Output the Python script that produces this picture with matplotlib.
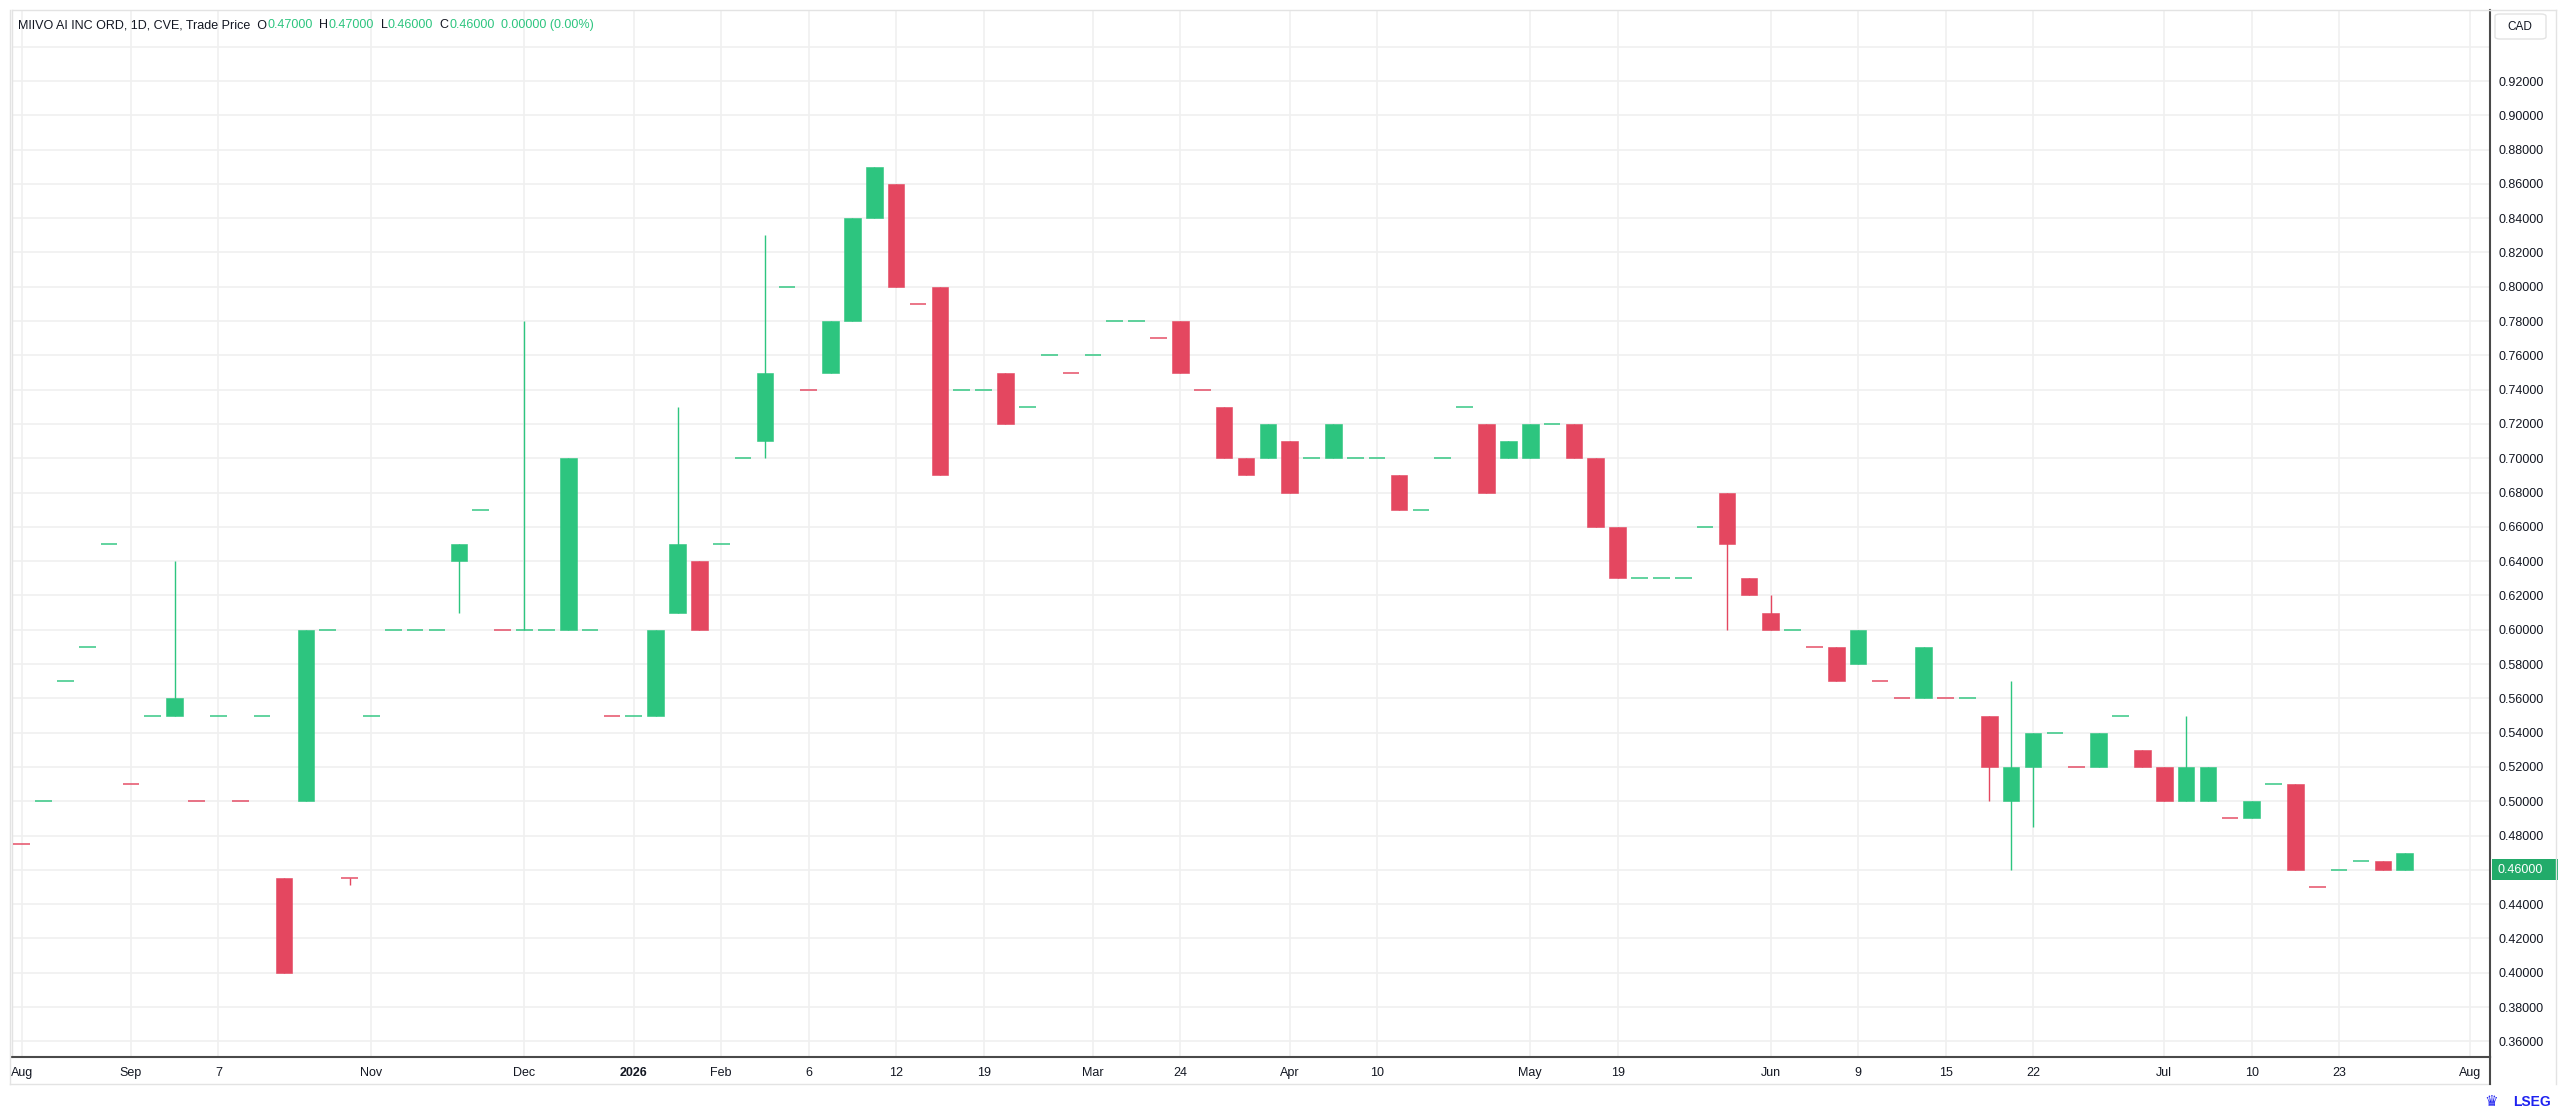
import matplotlib

matplotlib.use("Agg")

import matplotlib.pyplot as plt
import matplotlib.transforms as mtransforms
import numpy as np
from matplotlib.lines import Line2D
from matplotlib.patches import FancyBboxPatch

# daily bars (CAD)
opens = [
    0.475, 0.50, 0.57, 0.59, 0.65, 0.51, 0.55, 0.55, 0.50, 0.55,
    0.50, 0.55, 0.455, 0.50, 0.60, 0.455, 0.55, 0.60, 0.60, 0.60,
    0.64, 0.67, 0.60, 0.60, 0.60, 0.60, 0.60, 0.55, 0.55, 0.55,
    0.61, 0.64, 0.65, 0.70, 0.71, 0.80, 0.74, 0.75, 0.78, 0.84,
    0.86, 0.79, 0.80, 0.74, 0.74, 0.75, 0.73, 0.76, 0.75, 0.76,
    0.78, 0.78, 0.77, 0.78, 0.74, 0.73, 0.70, 0.70, 0.71, 0.70,
    0.70, 0.70, 0.70, 0.69, 0.67, 0.70, 0.73, 0.72, 0.70, 0.70,
    0.72, 0.72, 0.70, 0.66, 0.63, 0.63, 0.63, 0.66, 0.68, 0.63,
    0.61, 0.60, 0.59, 0.59, 0.58, 0.57, 0.56, 0.56, 0.56, 0.56,
    0.55, 0.50, 0.52, 0.54, 0.52, 0.52, 0.55, 0.53, 0.52, 0.50,
    0.50, 0.49, 0.49, 0.51, 0.51, 0.45, 0.46, 0.465, 0.465, 0.46,
]
highs = [
    0.475, 0.50, 0.57, 0.59, 0.65, 0.51, 0.55, 0.64, 0.50, 0.55,
    0.50, 0.55, 0.455, 0.60, 0.60, 0.455, 0.55, 0.60, 0.60, 0.60,
    0.65, 0.67, 0.60, 0.78, 0.60, 0.70, 0.60, 0.55, 0.55, 0.60,
    0.73, 0.64, 0.65, 0.70, 0.83, 0.80, 0.74, 0.78, 0.84, 0.87,
    0.86, 0.79, 0.80, 0.74, 0.74, 0.75, 0.73, 0.76, 0.75, 0.76,
    0.78, 0.78, 0.77, 0.78, 0.74, 0.73, 0.70, 0.72, 0.71, 0.70,
    0.72, 0.70, 0.70, 0.69, 0.67, 0.70, 0.73, 0.72, 0.71, 0.72,
    0.72, 0.72, 0.70, 0.66, 0.63, 0.63, 0.63, 0.66, 0.68, 0.63,
    0.62, 0.60, 0.59, 0.59, 0.60, 0.57, 0.56, 0.59, 0.56, 0.56,
    0.55, 0.57, 0.54, 0.54, 0.52, 0.54, 0.55, 0.53, 0.52, 0.55,
    0.52, 0.49, 0.50, 0.51, 0.51, 0.45, 0.46, 0.465, 0.465, 0.47,
]
lows = [
    0.475, 0.50, 0.57, 0.59, 0.65, 0.51, 0.55, 0.55, 0.50, 0.55,
    0.50, 0.55, 0.40, 0.50, 0.60, 0.451, 0.55, 0.60, 0.60, 0.60,
    0.61, 0.67, 0.60, 0.60, 0.60, 0.60, 0.60, 0.55, 0.55, 0.55,
    0.61, 0.60, 0.65, 0.70, 0.70, 0.80, 0.74, 0.75, 0.78, 0.84,
    0.80, 0.79, 0.69, 0.74, 0.74, 0.72, 0.73, 0.76, 0.75, 0.76,
    0.78, 0.78, 0.77, 0.75, 0.74, 0.70, 0.69, 0.70, 0.68, 0.70,
    0.70, 0.70, 0.70, 0.67, 0.67, 0.70, 0.73, 0.68, 0.70, 0.70,
    0.72, 0.70, 0.66, 0.63, 0.63, 0.63, 0.63, 0.66, 0.60, 0.62,
    0.60, 0.60, 0.59, 0.57, 0.58, 0.57, 0.56, 0.56, 0.56, 0.56,
    0.50, 0.46, 0.485, 0.54, 0.52, 0.52, 0.55, 0.52, 0.50, 0.50,
    0.50, 0.49, 0.49, 0.51, 0.46, 0.45, 0.46, 0.465, 0.46, 0.46,
]
closes = [
    0.475, 0.50, 0.57, 0.59, 0.65, 0.51, 0.55, 0.56, 0.50, 0.55,
    0.50, 0.55, 0.40, 0.60, 0.60, 0.455, 0.55, 0.60, 0.60, 0.60,
    0.65, 0.67, 0.60, 0.60, 0.60, 0.70, 0.60, 0.55, 0.55, 0.60,
    0.65, 0.60, 0.65, 0.70, 0.75, 0.80, 0.74, 0.78, 0.84, 0.87,
    0.80, 0.79, 0.69, 0.74, 0.74, 0.72, 0.73, 0.76, 0.75, 0.76,
    0.78, 0.78, 0.77, 0.75, 0.74, 0.70, 0.69, 0.72, 0.68, 0.70,
    0.72, 0.70, 0.70, 0.67, 0.67, 0.70, 0.73, 0.68, 0.71, 0.72,
    0.72, 0.70, 0.66, 0.63, 0.63, 0.63, 0.63, 0.66, 0.65, 0.62,
    0.60, 0.60, 0.59, 0.57, 0.60, 0.57, 0.56, 0.59, 0.56, 0.56,
    0.52, 0.52, 0.54, 0.54, 0.52, 0.54, 0.55, 0.52, 0.50, 0.52,
    0.52, 0.49, 0.50, 0.51, 0.46, 0.45, 0.46, 0.465, 0.46, 0.47,
]
# bar colour as drawn: u = green, d = red
direction = list(
    "duuuuduudu"
    "duduuduuuu"
    "uuduuuuduu"
    "uduuuuduuu"
    "ddduuduudu"
    "uudddddudu"
    "uuuduuuduu"
    "uddduuuudd"
    "dudduddudu"
    "duuuduuddu"
    "uduudduudu"
)

price_ticks = [0.36, 0.38, 0.40, 0.42, 0.44, 0.46, 0.48, 0.50, 0.52, 0.54, 0.56,
               0.58, 0.60, 0.62, 0.64, 0.66, 0.68, 0.70, 0.72, 0.74, 0.76, 0.78,
               0.80, 0.82, 0.84, 0.86, 0.88, 0.90, 0.92, 0.94]
date_tick_bars = [0, 5, 9, 16, 23, 28, 32, 36, 40, 44, 49, 53, 58, 62, 69, 73,
                  80, 84, 88, 92, 98, 102, 106, 112]
date_tick_labels = ["Aug", "Sep", "7", "Nov", "Dec", "2026", "Feb", "6", "12", "19",
                    "Mar", "24", "Apr", "10", "May", "19", "Jun", "9", "15", "22",
                    "Jul", "10", "23", "Aug"]
last_price = 0.46
header_parts = [
    ("MIIVO AI INC ORD, 1D, CVE, Trade Price  O", "dark"),
    ("0.47000", "up"),
    ("  H", "dark"),
    ("0.47000", "up"),
    ("  L", "dark"),
    ("0.46000", "up"),
    ("  C", "dark"),
    ("0.46000", "up"),
    ("  0.00000 (0.00%)", "up"),
]

GREEN = "#2DC57F"
RED = "#E44760"
DARK = "#131722"
GRID = "#F0F0F0"
BORDER = "#E3E3E3"
AXIS = "#4A4A4A"
LOGO_BLUE = "#1F22F0"

W, H = 2560, 1115


def fx(px: float) -> float:
    return px / W


def fy(py: float) -> float:
    return 1.0 - py / H


def draw_candles(ax) -> None:
    x = np.arange(len(opens))
    o = np.array(opens)
    c = np.array(closes)
    hi = np.array(highs)
    lo = np.array(lows)
    up = np.array(direction) == "u"
    col = np.where(up, GREEN, RED)

    body_lo = np.minimum(o, c)
    body_h = np.abs(c - o)
    solid = body_h > 1e-9
    wick = hi - lo > 1e-9

    ax.vlines(x[wick], lo[wick], hi[wick], colors=col[wick], linewidth=1.0, zorder=2)
    ax.bar(x[solid], body_h[solid], bottom=body_lo[solid], width=0.76,
           color=col[solid], edgecolor=col[solid], linewidth=0.4, zorder=3)
    ax.hlines(c[~solid], x[~solid] - 0.38, x[~solid] + 0.38, colors=col[~solid],
              linewidth=1.4, alpha=0.75, zorder=3)


def main() -> None:
    plt.rcParams.update({"font.family": ["Liberation Sans", "DejaVu Sans"]})
    fig = plt.figure(figsize=(W / 100, H / 100), dpi=100)
    ax = fig.add_axes([fx(12), fy(1057), fx(2490 - 12), (1057 - 10) / H])

    draw_candles(ax)

    ax.set_xlim(-0.44, 112.9)
    ax.set_ylim(0.3509, 0.9614)

    ax.yaxis.tick_right()
    ax.set_yticks(price_ticks)
    ax.set_yticklabels(["" if abs(p - last_price) < 1e-9 or p > 0.93 else f"{p:.5f}"
                        for p in price_ticks])
    ax.set_xticks(date_tick_bars)
    ax.set_xticklabels(date_tick_labels)
    for lab in ax.get_xticklabels():
        if lab.get_text() == "2026":
            lab.set_fontweight("bold")
    ax.tick_params(axis="y", length=0, pad=6, labelsize=9, labelcolor=DARK)
    ax.tick_params(axis="x", length=0, pad=7, labelsize=9, labelcolor=DARK)
    ax.grid(True, color=GRID, linewidth=1.2, zorder=0)
    ax.set_axisbelow(True)

    for side in ("left", "top"):
        ax.spines[side].set_color(BORDER)
        ax.spines[side].set_linewidth(1.0)
    for side in ("right", "bottom"):
        ax.spines[side].set_color(AXIS)
        ax.spines[side].set_linewidth(1.5)

    # outer frame of the time / price scales
    fig.add_artist(Line2D([fx(10), fx(2490)], [fy(1084), fy(1084)], color=BORDER, lw=1.0))
    fig.add_artist(Line2D([fx(10), fx(10)], [fy(10), fy(1084)], color=BORDER, lw=1.0))
    fig.add_artist(Line2D([fx(2490), fx(2556)], [fy(10), fy(10)], color=BORDER, lw=1.0))
    fig.add_artist(Line2D([fx(2556), fx(2556)], [fy(10), fy(1084)], color=BORDER, lw=1.0))
    fig.add_artist(Line2D([fx(2490), fx(2490)], [fy(1057), fy(1084)], color=AXIS, lw=1.5))

    # currency badge
    fig.add_artist(FancyBboxPatch((fx(2495), fy(39)), fx(51), 25 / H,
                                  boxstyle="round,pad=0,rounding_size=0.002",
                                  transform=fig.transFigure, facecolor="white",
                                  edgecolor=BORDER, linewidth=1.0))
    fig.text(fx(2520), fy(27), "CAD", ha="center", va="center", fontsize=8.5, color=DARK)

    # last price marker on the price scale
    trans = mtransforms.blended_transform_factory(fig.transFigure, ax.transData)
    half = 10.5 / 1715
    fig.add_artist(FancyBboxPatch((fx(2492), last_price - half), fx(66), 2 * half,
                                  boxstyle="square,pad=0", transform=trans,
                                  facecolor="#22AB6A", edgecolor="none"))
    fig.text(fx(2497), last_price, f"{last_price:.5f}", transform=trans, ha="left",
             va="center", fontsize=9, color="white")

    # header with coloured OHLC values
    renderer = fig.canvas.get_renderer()
    x0 = fx(18)
    for text, kind in header_parts:
        t = fig.text(x0, fy(25), text, ha="left", va="center", fontsize=9,
                     color=DARK if kind == "dark" else GREEN)
        bb = t.get_window_extent(renderer)
        x0 = bb.x1 / W

    # vendor mark, bottom right
    fig.text(fx(2491), fy(1102), "\u265b", ha="center", va="center", fontsize=11,
             color=LOGO_BLUE, family="DejaVu Sans")
    fig.text(fx(2551), fy(1102), "LSEG", ha="right", va="center", fontsize=10,
             fontweight="bold", color=LOGO_BLUE)

    fig.savefig("out.png", dpi=100)
    plt.close(fig)


if __name__ == "__main__":
    main()
